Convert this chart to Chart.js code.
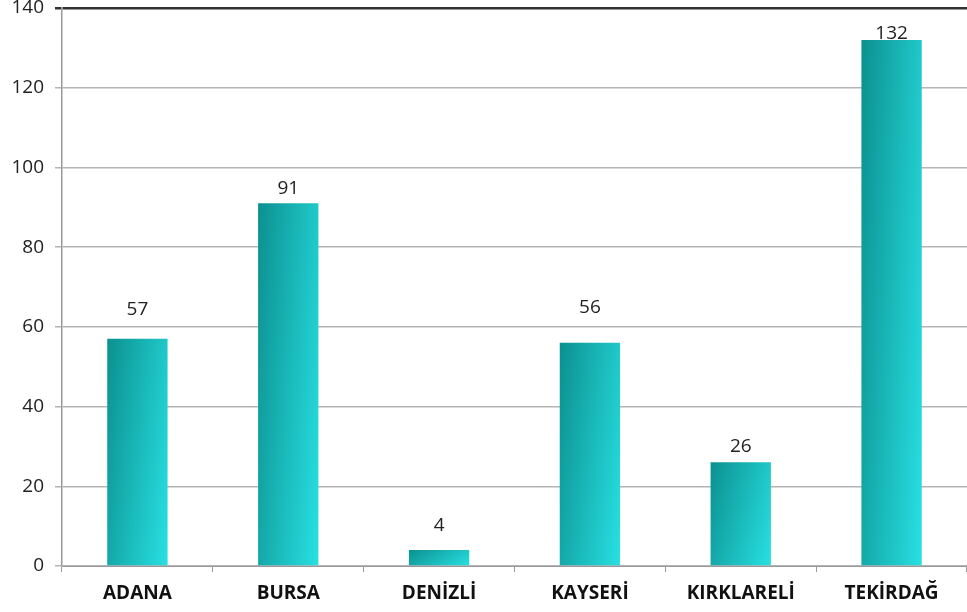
<!DOCTYPE html>
<html>
<head>
<meta charset="utf-8">
<script src="https://cdn.jsdelivr.net/npm/chart.js@4.4.0/dist/chart.umd.min.js"></script>
<style>
  html, body { margin: 0; padding: 0; background: #fff; }
  #wrap { width: 967px; height: 612px; }
</style>
</head>
<body>
<div id="wrap"><canvas id="myChart"></canvas></div>
<script>
const cities = ['ADANA', 'BURSA', 'DENİZLİ', 'KAYSERİ', 'KIRKLARELİ', 'TEKİRDAĞ'];
const counts = [57, 91, 4, 56, 26, 132];
const yTicks = [0, 20, 40, 60, 80, 100, 120, 140];

// label distance above each bar top (px), as placed in the original
const labelGap = [29, 15, 24, 35, 16, 6];

// teal gradient: mostly left->right, a bit top->bottom, scaled to each bar
function barGradient(ctx) {
  const chart = ctx.chart;
  const xs = chart.scales.x, ys = chart.scales.y;
  if (!chart.chartArea || !xs || !ys || ctx.dataIndex === undefined) return '#17b5b5';
  const cx = xs.getPixelForValue(ctx.dataIndex);
  const w = (xs.width / cities.length) * 0.4;
  const top = ys.getPixelForValue(counts[ctx.dataIndex]);
  const bot = ys.getPixelForValue(0);
  const h = Math.max(bot - top, 1);
  if (![cx, w, top, bot].every(Number.isFinite)) return '#17b5b5';
  const a = 0.7, b = 0.3;
  const vx = a / w, vy = b / h;
  const n = vx * vx + vy * vy;
  const x0 = cx - w / 2;
  const g = chart.ctx.createLinearGradient(x0, top, x0 + vx / n, top + vy / n);
  g.addColorStop(0, '#0c9090');
  g.addColorStop(1, '#28e0e2');
  return g;
}

const valueLabels = {
  id: 'valueLabels',
  afterDatasetsDraw(chart) {
    const c = chart.ctx;
    const meta = chart.getDatasetMeta(0);
    c.save();
    c.font = '19px "Open Sans", sans-serif';
    c.fillStyle = '#222';
    c.textAlign = 'center';
    c.textBaseline = 'middle';
    meta.data.forEach((bar, i) => {
      c.fillText(counts[i], bar.x, bar.y - labelGap[i]);
    });
    c.restore();
  }
};

new Chart(document.getElementById('myChart'), {
  type: 'bar',
  data: {
    labels: cities,
    datasets: [{
      data: counts,
      backgroundColor: barGradient,
      borderWidth: 0,
      categoryPercentage: 1,
      barPercentage: 0.4
    }]
  },
  plugins: [valueLabels],
  options: {
    responsive: true,
    maintainAspectRatio: false,
    animation: false,
    layout: { padding: { top: 8, right: 0, left: 0, bottom: 0 } },
    plugins: { legend: { display: false }, tooltip: { enabled: false } },
    scales: {
      x: {
        grid: { drawOnChartArea: false, drawTicks: true, offset: true, tickLength: 6, color: '#9a9a9a' },
        border: { color: '#9a9a9a', width: 1 },
        ticks: { color: '#111', font: { family: '"Open Sans", sans-serif', size: 19, weight: 'bold' }, padding: 10 },
        afterFit(scale) { scale.height = 46; }
      },
      y: {
        min: 0,
        max: 140,
        afterBuildTicks(scale) { scale.ticks = yTicks.map(v => ({ value: v })); },
        grid: {
          color: ctx => ctx.tick && ctx.tick.value === 140 ? '#333' : '#b4b4b4',
          lineWidth: ctx => ctx.tick && ctx.tick.value === 140 ? 2.5 : 1.5,
          tickLength: 7
        },
        border: { color: '#9a9a9a', width: 1.5 },
        ticks: { color: '#222', font: { family: '"Open Sans", sans-serif', size: 19 }, padding: 11 },
        afterFit(scale) { scale.width = 62; scale.paddingTop = 0; scale.paddingBottom = 0; }
      }
    }
  }
});
</script>
</body>
</html>
